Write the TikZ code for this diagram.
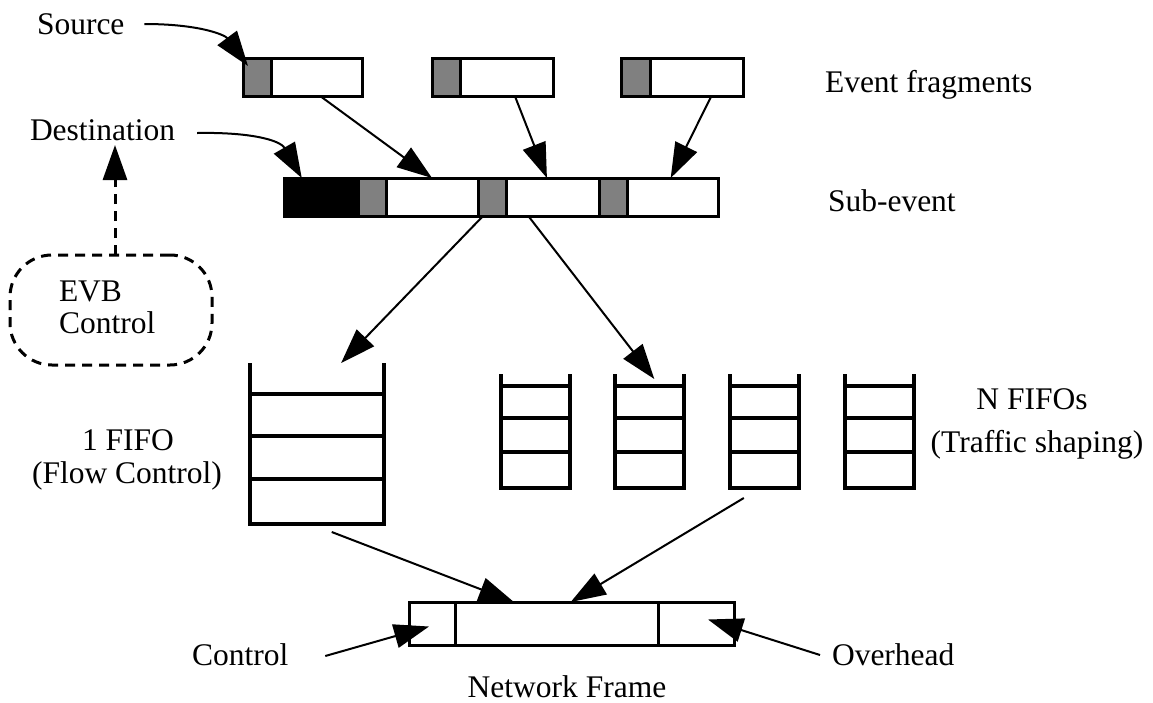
\documentclass[tikz,border=0pt]{standalone}
\usepackage{fontspec}
\setmainfont{Liberation Serif}
\usetikzlibrary{arrows.meta,calc}
\definecolor{hdrgray}{RGB}{128,128,128}
\begin{document}
\begin{tikzpicture}[x=1pt,y=-1pt,
  lbl/.style={font=\fontsize{31.5}{34}\selectfont, inner sep=0pt, outer sep=0pt},
  cell/.style={draw, line width=3pt, minimum height=38pt, inner sep=0pt, outer sep=0pt, anchor=north west},
  hdr/.style={cell, fill=hdrgray},
  dst/.style={cell, fill=black},
  fcell/.style={draw, line width=3pt, minimum height=43pt, inner sep=0pt, outer sep=0pt, anchor=north west},
  fifobox/.style={inner sep=0pt, outer sep=0pt, anchor=north west},
  fifoline/.style={line width=4pt},
  conn/.style={line width=2pt, -{Triangle[length=35pt 0 0,width=24pt 0 0]}},
  dashline/.style={line width=3pt, dash pattern=on 10pt off 7pt},
]
\useasboundingbox (0,0) rectangle (1153,702);

% ---- event fragments: header + payload
\node[hdr, minimum width=28pt] (f1h) at (243,58) {};
\node[cell, minimum width=91pt] (f1b) at (271,58) {};
\node[hdr, minimum width=28pt] (f2h) at (432,58) {};
\node[cell, minimum width=93pt] (f2b) at (460,58) {};
\node[hdr, minimum width=29pt] (f3h) at (621,58) {};
\node[cell, minimum width=93pt] (f3b) at (650,58) {};

% ---- sub-event: destination + three fragments
\node[dst, minimum width=74pt] (sd) at (284,178) {};
\node[hdr, minimum width=28pt] (s1h) at (358,178) {};
\node[cell, minimum width=92pt] (s1b) at (386,178) {};
\node[hdr, minimum width=28pt] (s2h) at (478,178) {};
\node[cell, minimum width=93pt] (s2b) at (506,178) {};
\node[hdr, minimum width=28pt] (s3h) at (599,178) {};
\node[cell, minimum width=91pt] (s3b) at (627,178) {};

% ---- network frame
\node[fcell, minimum width=46pt] (fc) at (409,602) {};
\node[fcell, minimum width=203pt] (fp) at (455,602) {};
\node[fcell, minimum width=76pt] (fo) at (658,602) {};

% ---- single flow-control FIFO
\node[fifobox, minimum width=134pt, minimum height=161pt] (big) at (250,363) {};
\draw[fifoline] (big.north west) -- (big.south west) -- (big.south east) -- (big.north east);
\foreach \d in {31,73,116}
  \draw[fifoline] ([yshift=-\d pt]big.north west) -- ([yshift=-\d pt]big.north east);

% ---- traffic-shaping FIFOs
\foreach \n/\x in {q1/501,q2/615,q3/730,q4/845}{
  \node[fifobox, minimum width=69pt, minimum height=114pt] (\n) at (\x,374) {};
  \draw[fifoline] (\n.north west) -- (\n.south west) -- (\n.south east) -- (\n.north east);
  \foreach \d in {12,44,78}
    \draw[fifoline] ([yshift=-\d pt]\n.north west) -- ([yshift=-\d pt]\n.north east);
}

% ---- EVB control
\node[dashline, draw, rounded corners=42pt, minimum width=202pt, minimum height=110pt,
      inner sep=0pt, outer sep=0pt] (evb) at (111,310) {};
\node[lbl, anchor=base west] (evbt) at (59,301) {EVB};
\node[lbl, anchor=base west] (evbc) at (59,333) {Control};

% ---- labels
\node[lbl, anchor=base west] (src) at (37,34) {Source};
\node[lbl, anchor=base west] (dstl) at (30,140) {Destination};
\node[lbl, anchor=base west] (efr) at (825,92) {Event fragments};
\node[lbl, anchor=base west] (sub) at (828,211) {Sub-event};
\node[lbl, anchor=base] (one) at (128,450) {1 FIFO};
\node[lbl, anchor=base] (flow) at (127,483) {(Flow Control)};
\node[lbl, anchor=base] (nf) at (1032,409) {N FIFOs};
\node[lbl, anchor=base] (shp) at (1037,452) {(Traffic shaping)};
\node[lbl, anchor=base west] (ctl) at (192,665) {Control};
\node[lbl, anchor=base west] (ovh) at (832,665) {Overhead};
\node[lbl, anchor=base] (nfr) at (567,697) {Network Frame};

% ---- header pointers
\draw[conn] ([xshift=20pt,yshift=10pt]src.base east)
  .. controls (200,24) and (225,35) .. ($(f1h.north west)+(5,8)$);
\draw[conn] ([xshift=22pt,yshift=7pt]dstl.base east)
  .. controls (250,132) and (280,140) .. ($(sd.north west)!0.24!(sd.north east)$);
\coordinate (dtip) at ($(evb.north)+(4,-110)$);
\draw[conn, line width=3pt, dash pattern=on 10pt off 7pt] ($(evb.north)+(4,0)$) -- (dtip);

% ---- fragments into the sub-event
\draw[conn] ($(f1b.south west)!0.54!(f1b.south east)$) -- (s1b.north);
\draw[conn] ($(f2b.south west)!0.59!(f2b.south east)$) -- ($(s2b.north west)!0.44!(s2b.north east)$);
\draw[conn] ($(f3b.south west)!0.66!(f3b.south east)$) -- ($(s3b.north west)!0.48!(s3b.north east)$);

% ---- sub-event into the FIFOs
\draw[conn] ($(s2h.south west)!0.18!(s2h.south east)$) -- ($(big.north west)!0.68!(big.north east)$);
\draw[conn] ($(s2b.south west)!0.24!(s2b.south east)$) -- ($(q2.north west)!0.57!(q2.north east)+(0,5)$);

% ---- FIFOs into the network frame
\draw[conn] ($(big.south west)!0.61!(big.south east)+(0,8)$) -- ($(fp.north west)!0.29!(fp.north east)$);
\draw[conn] ($(q3.south west)!0.2!(q3.south east)+(0,10)$) -- ($(fp.north west)!0.57!(fp.north east)$);

% ---- frame fields
\draw[conn] ([xshift=37pt,yshift=9pt]ctl.base east) -- ($(fc.center)+(-3,3)$);
\draw[conn] ([xshift=-12pt,yshift=10pt]ovh.base west) -- ($(fo.center)+(12,-4)$);
\end{tikzpicture}
\end{document}
